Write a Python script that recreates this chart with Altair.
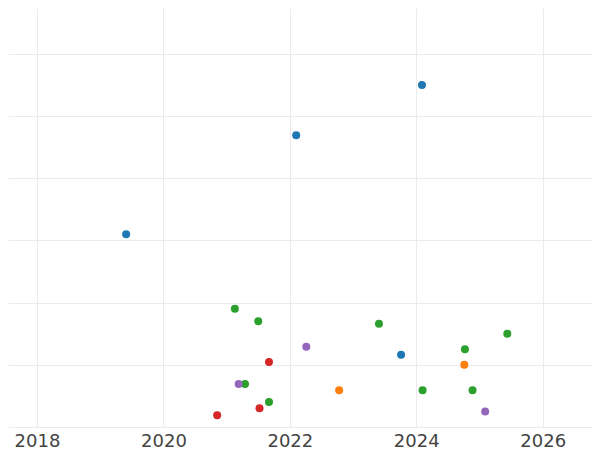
import altair as alt
import pandas as pd

series = ["A", "B", "C", "D", "E"]
colors = ["#1f77b4", "#ff7f0e", "#2ca02c", "#d62728", "#9467bd"]

a_x = [2024.09, 2022.10, 2019.41, 2023.76]
a_y = [5.50, 4.69, 3.10, 1.16]
b_x = [2022.78, 2024.76]
b_y = [0.59, 1.00]
c_x = [2021.13, 2021.50, 2023.41, 2025.44, 2024.77, 2021.29, 2021.67, 2024.10, 2024.89]
c_y = [1.90, 1.70, 1.66, 1.50, 1.25, 0.69, 0.40, 0.59, 0.59]
d_x = [2021.67, 2021.52, 2020.85]
d_y = [1.045, 0.30, 0.19]
e_x = [2022.26, 2021.19, 2025.09]
e_y = [1.29, 0.69, 0.25]

rows = []
for name, xs, ys in zip(series, [a_x, b_x, c_x, d_x, e_x], [a_y, b_y, c_y, d_y, e_y]):
    for x, y in zip(xs, ys):
        rows.append({"series": name, "x": x, "y": y})
df = pd.DataFrame(rows)

chart = alt.Chart(df).mark_circle(size=64, opacity=1).encode(
    x=alt.X("x:Q", scale=alt.Scale(domain=[2017.541, 2026.78], nice=False, zero=False),
            axis=alt.Axis(values=[2018, 2020, 2022, 2024, 2026], format="d", title=None,
                          domain=False, ticks=False, labelFontSize=18, labelFont="DejaVu Sans",
                          labelColor="#444444", labelPadding=5, gridColor="#ebebeb",
                          labelFlush=False)),
    y=alt.Y("y:Q", scale=alt.Scale(domain=[0, 6.736], nice=False),
            axis=alt.Axis(values=[0, 1, 2, 3, 4, 5, 6], labels=False, ticks=False, domain=False,
                          title=None, gridColor="#ebebeb")),
    color=alt.Color("series:N", scale=alt.Scale(domain=series, range=colors), legend=None),
).properties(width=584, height=419, padding=0).configure_view(stroke=None)

chart.save("out.html", embed_options={"renderer": "svg", "actions": False})
